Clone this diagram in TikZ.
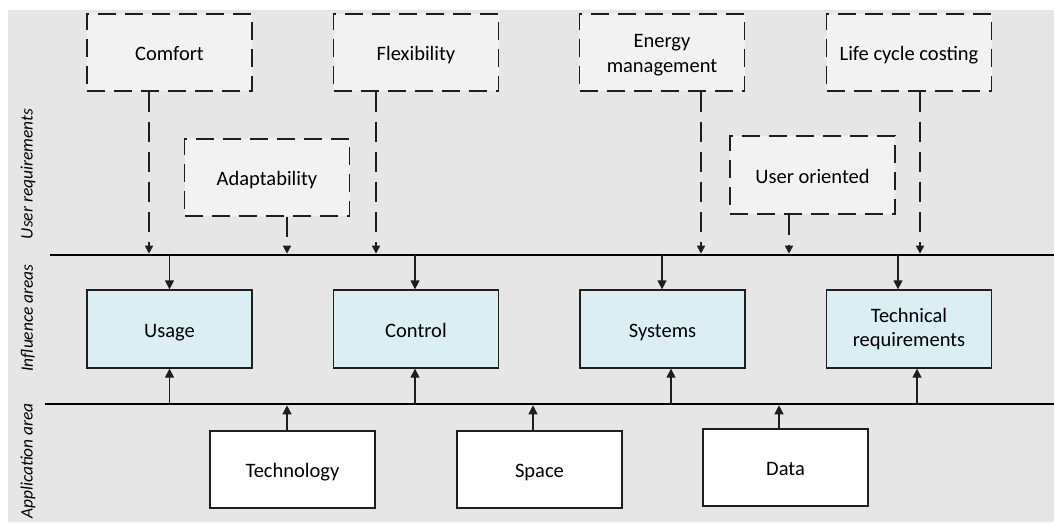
\documentclass[tikz,border=0pt]{standalone}
\usepackage{fontspec}
\setmainfont{Carlito}
\usetikzlibrary{arrows.meta,calc}
\definecolor{panel}{HTML}{E6E6E6}
\definecolor{reqfill}{HTML}{F2F2F2}
\definecolor{inflfill}{HTML}{DAEEF3}
\definecolor{ink}{HTML}{1E1E1E}
\tikzset{
  boxfont/.style={font=\fontsize{20.5}{24.5}\selectfont},
  oneline/.style={text height=16pt, text depth=0pt},
  reqbox/.style={draw=ink, fill=reqfill, line width=1.4pt, dash pattern=on 18pt off 9pt,
    minimum width=165pt, minimum height=77pt, inner sep=0pt, align=center, boxfont},
  inflbox/.style={draw=ink, fill=inflfill, line width=1.3pt,
    minimum width=165pt, minimum height=78pt, inner sep=0pt, align=center, boxfont},
  appbox/.style={draw=ink, fill=white, line width=1.3pt,
    minimum width=165pt, minimum height=77pt, inner sep=0pt, align=center, boxfont},
  bus/.style={draw=black, line width=2.6pt},
  dasharrow/.style={draw=ink, line width=1.4pt, dash pattern=on 20pt off 10pt,
    -{Triangle[length=8pt,width=8pt]}, shorten >=1.3pt},
  solidarrow/.style={draw=ink, line width=1.3pt, -{Triangle[length=9pt,width=9pt]}},
  sidelabel/.style={rotate=90, inner sep=0pt, font=\fontsize{17.4}{21}\selectfont\itshape}
}
\begin{document}
\begin{tikzpicture}[x=1pt,y=-1pt]
\useasboundingbox (0,0) rectangle (1054,522);
\fill[panel] (8,10) rectangle (1054,522);

% row titles
\node[sidelabel] (lblU) at (28,174) {User requirements};
\node[sidelabel] (lblI) at (28,318) {Influence areas};
\node[sidelabel, anchor=east] (lblA) at (28,403) {Application area};

% horizontal bus lines
\coordinate (uL) at (50,255);
\coordinate (uR) at (1054,255);
\coordinate (aL) at (45,404);
\coordinate (aR) at (1054,404);
\draw[bus] (uL) -- (uR);
\draw[bus] (aL) -- (aR);

% user requirements
\node[reqbox, oneline] (comfort) at (169.5,52.5) {Comfort};
\node[reqbox, oneline] (flex) at (416,52.5) {Flexibility};
\node[reqbox, text height=34pt, text depth=18pt] (energy) at (662,52.5)
  {\begin{tabular}{@{}c@{}}Energy\\management\end{tabular}};
\node[reqbox, oneline] (lcc) at (909,52.5) {Life cycle costing};
\node[reqbox, oneline] (adapt) at (267,177.5) {Adaptability};
\node[reqbox, oneline, minimum height=78pt] (useror) at (812.5,175) {User oriented};

% influence areas
\node[inflbox, oneline] (usage) at (169.5,329) {Usage};
\node[inflbox, oneline] (control) at (416,329) {Control};
\node[inflbox, oneline] (systems) at (662.5,329) {Systems};
\node[inflbox] (techreq) at (909,329) {Technical\\requirements};

% application area
\node[appbox, oneline] (technology) at (292.5,469.5) {Technology};
\node[appbox, oneline] (space) at (539.5,469.5) {Space};
\node[appbox, oneline] (data) at (785.5,467.5) {Data};

% requirements feeding the upper bus
\foreach \n/\dx in {comfort/-20.5, flex/-40, energy/39, lcc/11, adapt/20, useror/-23.5}
  \draw[dasharrow] ([xshift=\dx pt]\n.south) -- ([xshift=\dx pt]\n.south |- uL);

% upper bus to influence areas
\foreach \n/\dx in {usage/0, control/-1, systems/-0.5, techreq/-11}
  \draw[solidarrow] ([xshift=\dx pt]\n.north |- uL) -- ([xshift=\dx pt]\n.north);

% lower bus to influence areas
\foreach \n/\dx in {usage/0, control/-1, systems/8.5, techreq/8}
  \draw[solidarrow] ([xshift=\dx pt]\n.south |- aL) -- ([xshift=\dx pt]\n.south);

% application area to lower bus
\foreach \n/\dx in {technology/-5.5, space/-6.5, data/-6.5}
  \draw[solidarrow, shorten >=1.3pt] ([xshift=\dx pt]\n.north) -- ([xshift=\dx pt]\n.north |- aL);
\end{tikzpicture}
\end{document}
